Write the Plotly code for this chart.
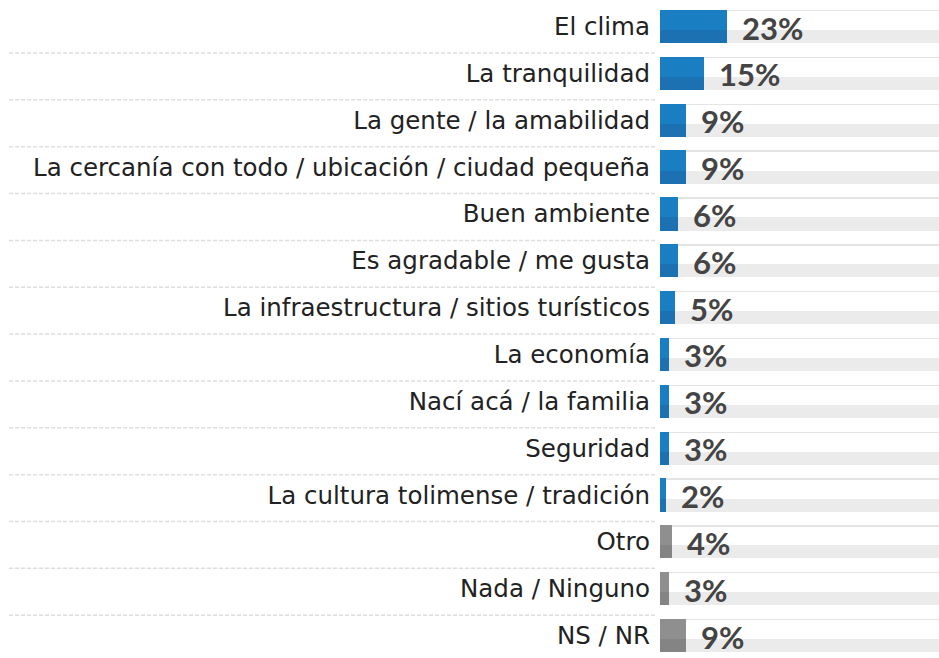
import plotly.graph_objects as go

categories = [
    "El clima", "La tranquilidad", "La gente / la amabilidad",
    "La cercanía con todo / ubicación / ciudad pequeña", "Buen ambiente",
    "Es agradable / me gusta", "La infraestructura / sitios turísticos",
    "La economía", "Nací acá / la familia", "Seguridad",
    "La cultura tolimense / tradición", "Otro", "Nada / Ninguno", "NS / NR",
]
values = [23, 15, 9, 9, 6, 6, 5, 3, 3, 3, 2, 4, 3, 9]
is_other = [False] * 11 + [True] * 3
labels = [f"{v}%" for v in values]

n = len(categories)
pos = list(range(n))

BLUE_TOP, BLUE_BOT = "#1a7ec2", "#1b71b1"
GRAY_TOP, GRAY_BOT = "#8f8f8f", "#848484"
TRACK_BOT = "#ebebeb"
TRACK_LINE = "#e4e4e4"

HALF = 0.355
UP = 0.43   # upper (lighter) part height in row units
LOW = 2 * HALF - UP

FIG_W, FIG_H = 939, 658
ROW_PX = 46.85
FIRST_CENTER = 26.5
y_top = -FIRST_CENTER / ROW_PX
y_bot = y_top + FIG_H / ROW_PX

fig = go.Figure()

fig.add_trace(go.Bar(
    y=pos, x=[100] * n, orientation="h",
    width=[LOW] * n, offset=-HALF + UP,
    marker=dict(color=TRACK_BOT, line=dict(width=0)),
    hoverinfo="skip", showlegend=False,
))
fig.add_trace(go.Bar(
    y=pos, x=[100] * n, orientation="h",
    width=[0.03] * n, offset=-HALF,
    marker=dict(color=TRACK_LINE, line=dict(width=0)),
    hoverinfo="skip", showlegend=False,
))
fig.add_trace(go.Bar(
    y=pos, x=values, orientation="h",
    width=[UP] * n, offset=-HALF,
    marker=dict(color=[GRAY_TOP if o else BLUE_TOP for o in is_other], line=dict(width=0)),
    hoverinfo="skip", showlegend=False,
))
fig.add_trace(go.Bar(
    y=pos, x=values, orientation="h",
    width=[LOW] * n, offset=-HALF + UP,
    marker=dict(color=[GRAY_BOT if o else BLUE_BOT for o in is_other], line=dict(width=0)),
    hoverinfo="skip", showlegend=False,
))

for i, (v, lab) in enumerate(zip(values, labels)):
    fig.add_annotation(
        x=v, y=i, text=f"<b>{lab}</b>", showarrow=False,
        xanchor="left", yanchor="middle", xshift=13, yshift=-1,
        font=dict(family="Lato, DejaVu Sans, sans-serif", size=31, color="#444444"),
    )

for i in range(n - 1):
    fig.add_shape(
        type="line", xref="paper", yref="y",
        x0=-2.333, x1=-0.018, y0=i + 0.566, y1=i + 0.566,
        line=dict(color="#dddddd", width=1.5, dash="4px,2px"),
    )

fig.update_layout(
    width=FIG_W, height=FIG_H,
    margin=dict(l=660, r=0, t=0, b=0),
    paper_bgcolor="white", plot_bgcolor="white",
    barmode="overlay", bargap=0,
    xaxis=dict(range=[0, 95.3], visible=False, fixedrange=True),
    yaxis=dict(
        range=[y_bot, y_top], tickmode="array", tickvals=pos, ticktext=categories,
        showgrid=False, zeroline=False, showline=False, ticks="",
        ticklabelstandoff=9,
        tickfont=dict(family="DejaVu Sans, sans-serif", size=24.5, color="#222222"),
    ),
)

fig.write_html(
    "out.html",
    config={"displayModeBar": False, "staticPlot": True},
    post_script="document.body.style.margin='0';document.documentElement.style.overflow='hidden';",
)
